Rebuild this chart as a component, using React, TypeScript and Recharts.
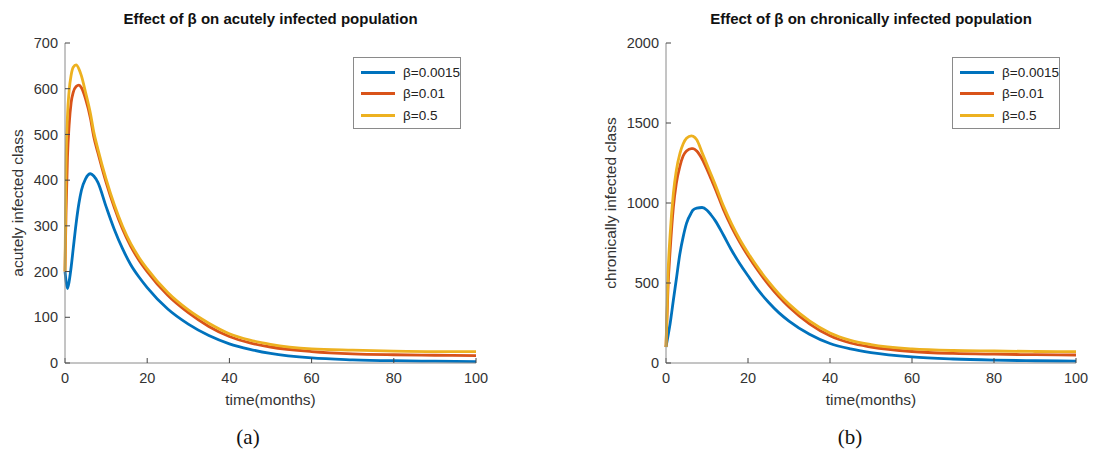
import React from "react";
import { LineChart, Line, XAxis, YAxis } from "recharts";

// time grids (months)
const acuteTime = [0, 0.25, 0.6, 1, 1.5, 2, 2.7, 3.4, 4, 5, 6.2, 7, 8, 10, 12, 14, 16, 18, 20, 25, 30, 35, 40, 45, 50, 60, 70, 80, 90, 100];
const acuteLow = [200, 180, 163, 178, 210, 250, 305, 350, 378, 403, 414, 409, 395, 342, 292, 250, 215, 188, 165, 118, 85, 60, 42, 30, 21, 11, 7, 5, 4, 3];
const acuteMid = [200, 330, 450, 520, 570, 592, 605, 608, 602, 578, 535, 495, 460, 395, 340, 293, 255, 225, 200, 148, 110, 80, 58, 44, 35, 25, 20, 18, 17, 16];
const acuteHigh = [200, 430, 540, 595, 630, 647, 652, 643, 628, 592, 545, 505, 468, 402, 346, 299, 261, 231, 206, 154, 116, 87, 64, 50, 41, 31, 28, 26, 25, 25];

const chronicTime = [0, 0.5, 1, 1.8, 2.5, 3.4, 4.2, 5, 6.2, 6.6, 7.5, 8.8, 10, 11, 12, 14, 16, 18, 20, 22.5, 25, 27.5, 30, 35, 40, 45, 50, 60, 70, 80, 90, 100];
const chronicLow = [100, 170, 245, 394, 520, 685, 790, 873, 940, 956, 968, 972, 955, 925, 890, 800, 705, 620, 545, 455, 380, 315, 262, 180, 122, 88, 65, 38, 25, 18, 14, 12];
const chronicMid = [100, 480, 700, 975, 1120, 1230, 1295, 1325, 1340, 1340, 1325, 1275, 1210, 1150, 1090, 960, 850, 755, 670, 575, 490, 415, 350, 245, 170, 125, 100, 72, 60, 55, 52, 50];
const chronicHigh = [100, 560, 800, 1060, 1200, 1310, 1370, 1405, 1420, 1417, 1395, 1315, 1240, 1178, 1115, 982, 870, 772, 688, 593, 508, 433, 368, 263, 188, 142, 115, 88, 78, 75, 72, 71];

const xTicks = [0, 20, 40, 60, 80, 100];
const acuteTicks = [0, 100, 200, 300, 400, 500, 600, 700];
const chronicTicks = [0, 500, 1000, 1500, 2000];

const seriesNames = ["β=0.0015", "β=0.01", "β=0.5"];
const seriesKeys = ["low", "mid", "high"];
const COLORS = ["#0072BD", "#D95319", "#EDB120"];

const FONT = '"Liberation Sans", Arial, Helvetica, sans-serif';
const BOX = "#8a8a8a";
const TXT = "#333333";

function rows(time: number[], low: number[], mid: number[], high: number[]) {
  return time.map((t, i) => ({ t, low: low[i], mid: mid[i], high: high[i] }));
}

const acuteData = rows(acuteTime, acuteLow, acuteMid, acuteHigh);
const chronicData = rows(chronicTime, chronicLow, chronicMid, chronicHigh);

function LegendBox({ left, top }: { left: number; top: number }) {
  return (
    <div
      style={{
        position: "absolute",
        left,
        top,
        width: 108,
        height: 72,
        border: `1px solid ${BOX}`,
        background: "#fff",
        boxSizing: "border-box",
        fontFamily: FONT,
        fontSize: 13.5,
        color: "#222",
      }}
    >
      {seriesNames.map((n, i) => (
        <div
          key={n}
          style={{
            position: "absolute",
            left: 7,
            top: 6 + i * 21.5,
            height: 16,
            display: "flex",
            alignItems: "center",
          }}
        >
          <div style={{ width: 34, height: 3, background: COLORS[i], marginRight: 8 }} />
          <span>{n}</span>
        </div>
      ))}
    </div>
  );
}

function Panel({
  left,
  width,
  margin,
  yWidth,
  data,
  yMax,
  yTicks,
  title,
  ylabel,
  caption,
  captionX,
  ylabelX,
  legendLeft,
}: {
  left: number;
  width: number;
  margin: { top: number; right: number; bottom: number; left: number };
  yWidth: number;
  data: { t: number; low: number; mid: number; high: number }[];
  yMax: number;
  yTicks: number[];
  title: string;
  ylabel: string;
  caption: string;
  captionX: number;
  ylabelX: number;
  legendLeft: number;
}) {
  const plotLeft = margin.left + yWidth;
  const plotRight = width - margin.right;
  const cx = (plotLeft + plotRight) / 2;
  const tickStyle = { fontSize: 14.5, fill: TXT, fontFamily: FONT };
  return (
    <div style={{ position: "absolute", left, top: 0, width, height: 450 }}>
      <div
        style={{
          position: "absolute",
          left: cx - 250,
          width: 500,
          top: 10,
          textAlign: "center",
          fontFamily: FONT,
          fontWeight: "bold",
          fontSize: 15,
          lineHeight: "18px",
          color: "#111",
        }}
      >
        {title}
      </div>
      <LineChart width={width} height={450} data={data} margin={margin}>
        <XAxis
          dataKey="t"
          type="number"
          domain={[0, 100]}
          ticks={xTicks}
          height={30}
          stroke={BOX}
          tickSize={-5}
          tickMargin={15}
          tick={tickStyle}
          tickLine={{ stroke: "#444" }}
          interval={0}
        />
        <XAxis
          xAxisId="top"
          orientation="top"
          dataKey="t"
          type="number"
          domain={[0, 100]}
          ticks={xTicks}
          height={0}
          stroke={BOX}
          tickSize={5}
          tick={false}
          tickLine={{ stroke: "#444" }}
        />
        <YAxis
          type="number"
          domain={[0, yMax]}
          ticks={yTicks}
          width={yWidth}
          stroke={BOX}
          tickSize={-5}
          tickMargin={12}
          tick={tickStyle}
          tickLine={{ stroke: "#444" }}
          interval={0}
        />
        <YAxis
          yAxisId="right"
          orientation="right"
          type="number"
          domain={[0, yMax]}
          ticks={yTicks}
          width={0}
          stroke={BOX}
          tickSize={-5}
          tick={false}
          tickLine={{ stroke: "#444" }}
        />
        {seriesKeys.map((k, i) => (
          <Line
            key={k}
            type="monotone"
            dataKey={k}
            name={seriesNames[i]}
            stroke={COLORS[i]}
            strokeWidth={2.8}
            dot={false}
            isAnimationActive={false}
          />
        ))}
      </LineChart>
      <div
        style={{
          position: "absolute",
          left: ylabelX - 150,
          top: (margin.top + 450 - margin.bottom - 30) / 2 - 9,
          width: 300,
          height: 18,
          lineHeight: "18px",
          textAlign: "center",
          transform: "rotate(-90deg)",
          fontFamily: FONT,
          fontSize: 15.5,
          color: TXT,
        }}
      >
        {ylabel}
      </div>
      <div
        style={{
          position: "absolute",
          left: cx - 100,
          width: 200,
          top: 391,
          textAlign: "center",
          fontFamily: FONT,
          fontSize: 15.5,
          lineHeight: "18px",
          color: TXT,
        }}
      >
        time(months)
      </div>
      <div
        style={{
          position: "absolute",
          left: captionX - 50,
          width: 100,
          top: 424,
          textAlign: "center",
          fontFamily: '"Liberation Serif", "Times New Roman", serif',
          fontSize: 21,
          lineHeight: "26px",
          color: "#111",
        }}
      >
        {caption}
      </div>
      <LegendBox left={legendLeft} top={57} />
    </div>
  );
}

export default function App() {
  return (
    <div
      style={{
        position: "absolute",
        left: 0,
        top: 0,
        width: 1093,
        height: 450,
        background: "#fff",
        overflow: "hidden",
      }}
    >
      <Panel
        left={0}
        width={550}
        margin={{ top: 43, right: 74, bottom: 57, left: 10 }}
        yWidth={55}
        data={acuteData}
        yMax={700}
        yTicks={acuteTicks}
        title="Effect of β on acutely infected population"
        ylabel="acutely infected class"
        caption="(a)"
        captionX={248}
        ylabelX={18}
        legendLeft={353}
      />
      <Panel
        left={550}
        width={543}
        margin={{ top: 43, right: 17, bottom: 57, left: 56 }}
        yWidth={60}
        data={chronicData}
        yMax={2000}
        yTicks={chronicTicks}
        title="Effect of β on chronically infected population"
        ylabel="chronically infected class"
        caption="(b)"
        captionX={300}
        ylabelX={61}
        legendLeft={402}
      />
    </div>
  );
}
